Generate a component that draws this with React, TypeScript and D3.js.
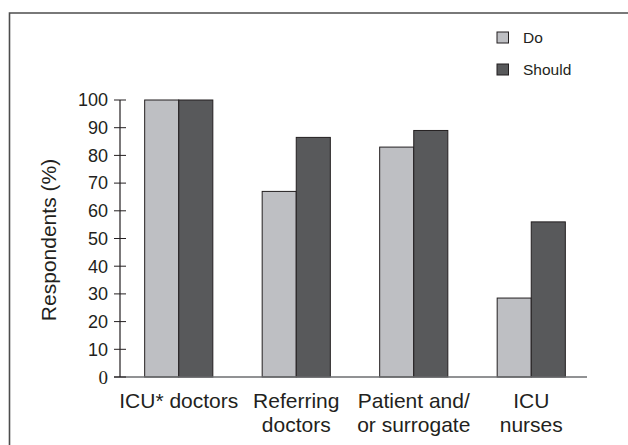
import React from 'react';
import * as d3 from 'd3';

const groups = ['ICU* doctors', 'Referring doctors', 'Patient and/ or surrogate', 'ICU nurses'];
const groupLines = [['ICU* doctors'], ['Referring', 'doctors'], ['Patient and/', 'or surrogate'], ['ICU', 'nurses']];
const series = ['Do', 'Should'];
const doValues = [100, 67, 83, 28.5];
const shouldValues = [100, 86.5, 89, 56];
const yTicks = [0, 10, 20, 30, 40, 50, 60, 70, 80, 90, 100];

const colors: Record<string, string> = { Do: '#bebfc3', Should: '#58595b' };

const App = () => {
  const width = 628;
  const height = 445;
  const font = 'Liberation Sans, Arial, sans-serif';

  const x = d3.scaleBand<string>()
    .domain(groups)
    .range([120, 590])
    .paddingInner(0.42)
    .paddingOuter(0.21);

  const xs = d3.scaleBand<string>()
    .domain(series)
    .range([0, x.bandwidth()]);

  const y = d3.scaleLinear().domain([0, 100]).range([377, 100]);

  const rows = groups.map((g, i) => ({ g, vals: [doValues[i], shouldValues[i]] }));

  return (
    <svg width={width} height={height} style={{ position: 'absolute', left: 0, top: 0, background: '#fff' }}>
      {/* frame */}
      <path d={`M9.5,445 V13 H628`} fill="none" stroke="#4d4d4d" strokeWidth={1.6} />

      {/* bars */}
      {rows.map((r) => (
        <g key={r.g} transform={`translate(${x(r.g)},0)`}>
          {series.map((s, j) => (
            <rect
              key={s}
              x={xs(s)}
              y={y(r.vals[j])}
              width={xs.bandwidth()}
              height={y(0) - y(r.vals[j])}
              fill={colors[s]}
              stroke="#231f20"
              strokeWidth={1}
            />
          ))}
        </g>
      ))}

      {/* x axis */}
      <line x1={114} x2={587} y1={y(0)} y2={y(0)} stroke="#6d6e70" strokeWidth={1.5} />

      {/* y axis */}
      <line x1={120} x2={120} y1={y(100)} y2={y(0)} stroke="#231f20" strokeWidth={1.2} />
      {yTicks.map((t) => (
        <g key={t}>
          <line x1={114} x2={126} y1={y(t)} y2={y(t)} stroke="#231f20" strokeWidth={1} />
          <text
            x={108}
            y={y(t)}
            dy="0.35em"
            textAnchor="end"
            fontFamily={t === 0 ? 'Liberation Serif, Times New Roman, serif' : font}
            fontSize={t === 0 ? 19 : 18}
            fill="#231f20"
          >
            {t}
          </text>
        </g>
      ))}

      <text
        transform={`translate(56,240) rotate(-90)`}
        textAnchor="middle"
        fontFamily={font}
        fontSize={21}
        fill="#231f20"
      >
        Respondents (%)
      </text>

      {/* category labels */}
      {groups.map((g, i) => (
        <text
          key={g}
          x={(x(g) as number) + x.bandwidth() / 2}
          y={408}
          textAnchor="middle"
          fontFamily={font}
          fontSize={21}
          fill="#231f20"
        >
          {groupLines[i].map((l, k) => (
            <tspan key={k} x={(x(g) as number) + x.bandwidth() / 2} dy={k === 0 ? 0 : 23.5}>
              {l}
            </tspan>
          ))}
        </text>
      ))}

      {/* legend */}
      {series.map((s, i) => (
        <g key={s} transform={`translate(497,${32 + i * 32})`}>
          <rect width={11.5} height={11} fill={colors[s]} stroke="#231f20" strokeWidth={1} />
          <text x={26} y={11} fontFamily={font} fontSize={15.5} fill="#231f20">
            {s}
          </text>
        </g>
      ))}
    </svg>
  );
};

export default App;
